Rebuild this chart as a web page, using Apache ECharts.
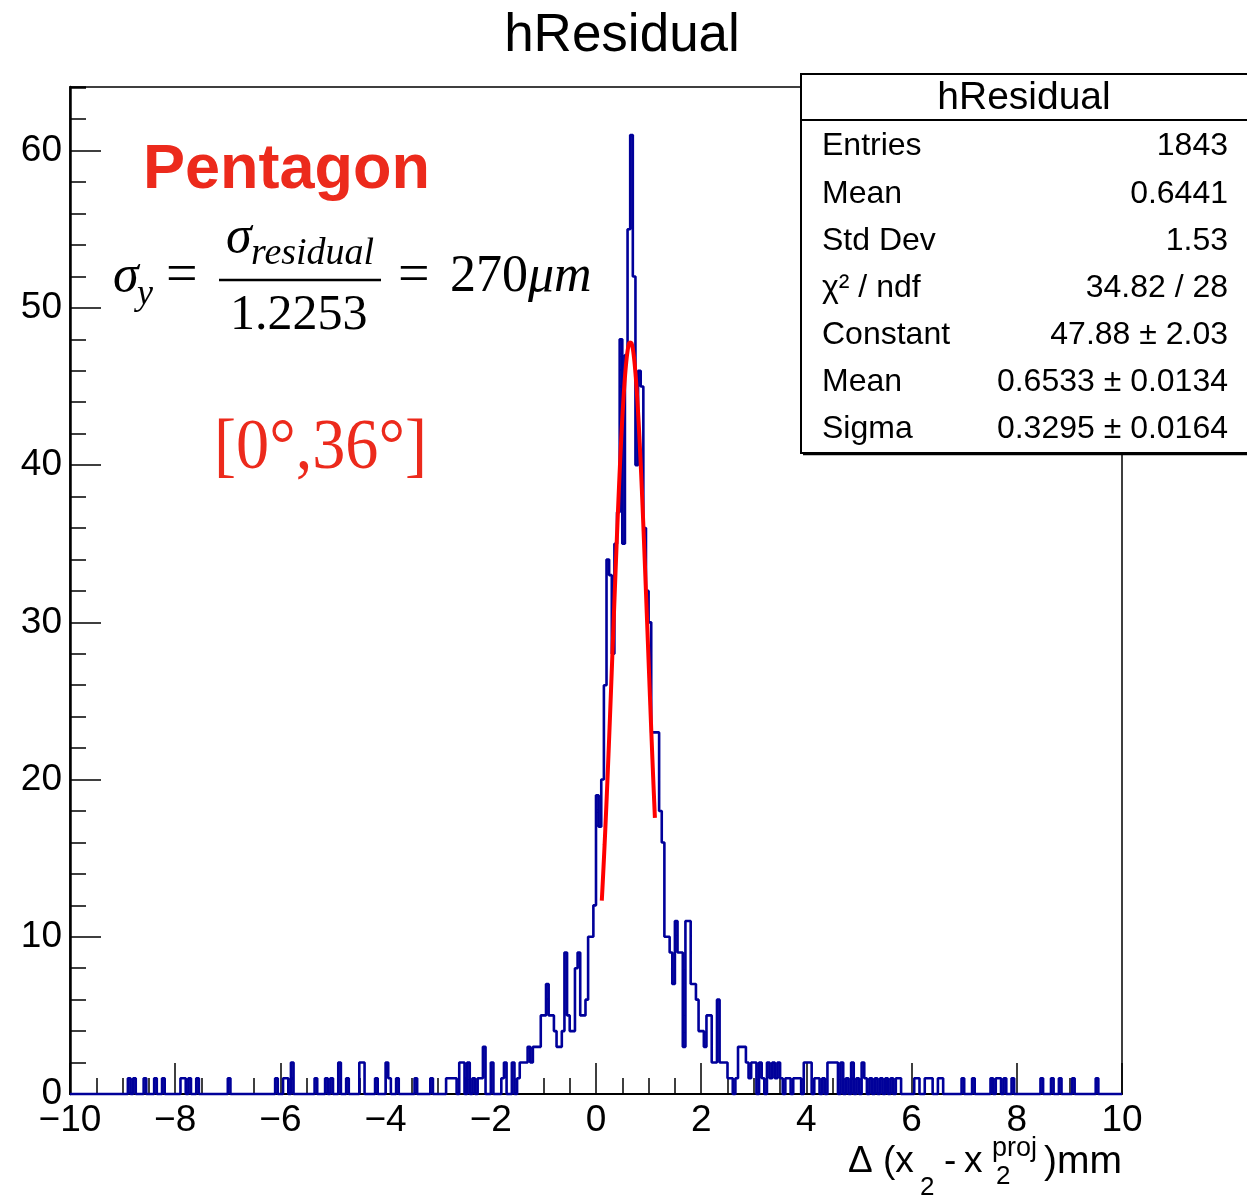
<!DOCTYPE html>
<html>
<head>
<meta charset="utf-8">
<script src="https://cdn.jsdelivr.net/npm/echarts@6/dist/echarts.min.js"></script>
<style>
  html, body { margin: 0; padding: 0; background: #ffffff; }
  #chart { width: 1247px; height: 1199px; }
</style>
</head>
<body>
<div id="chart"></div>
<script>
// Histogram binning: 400 bins of width 0.05 on [-10, 10]
const xMin = -10;
const xMax = 10;
const binWidth = 0.05;
const yMax = 64.05;

// Axis tick labels
const xTickValues = [-10, -8, -6, -4, -2, 0, 2, 4, 6, 8, 10];
const yTickValues = [0, 10, 20, 30, 40, 50, 60];

// Bin contents, one row of 20 bins per unit of x (row starts at the given x)
const countsFromMinus10 = [0,0,0,0,0,0,0,0,0,0,0,0,0,0,0,0,0,0,0,0];
const countsFromMinus9  = [0,0,1,0,1,0,0,0,1,0,0,0,1,0,0,1,0,0,0,0];
const countsFromMinus8  = [0,0,1,1,0,1,0,0,1,0,0,0,0,0,0,0,0,0,0,0];
const countsFromMinus7  = [1,0,0,0,0,0,0,0,0,0,0,0,0,0,0,0,0,0,1,0];
const countsFromMinus6  = [0,1,1,0,2,0,0,0,0,0,0,0,0,1,0,0,0,1,0,1];
const countsFromMinus5  = [0,0,2,0,0,1,0,0,0,0,2,2,0,0,0,0,1,0,0,0];
const countsFromMinus4  = [2,1,0,0,1,0,0,0,0,0,0,1,0,0,0,0,0,1,0,0];
const countsFromMinus3  = [0,0,0,1,1,1,1,0,2,2,0,2,0,1,0,1,1,3,0,0];
const countsFromMinus2  = [2,0,0,0,1,2,0,0,2,0,1,2,2,2,3,2,3,3,3,5];
const countsFromMinus1  = [5,7,5,5,4,3,3,4,9,5,4,4,8,9,5,5,6,10,10,12];
const countsFrom0       = [19,17,20,26,34,33,28,35,37,48,35,47,55,61,52,40,46,45,36,32];
const countsFrom1       = [30,23,23,23,18,16,10,10,9,7,11,9,9,3,11,11,7,7,6,4];
const countsFrom2       = [4,3,5,5,2,2,6,2,2,2,1,1,0,1,3,3,3,2,1,2];
const countsFrom3       = [2,0,2,1,0,2,1,2,1,2,1,0,1,1,0,1,1,1,0,2];
const countsFrom4       = [2,2,0,1,1,0,1,0,2,2,2,2,0,2,0,1,0,2,0,1];
const countsFrom5       = [0,2,1,0,1,0,1,0,1,0,1,0,1,0,1,1,0,0,0,0];
const countsFrom6       = [0,1,1,0,0,1,1,1,0,0,1,1,0,0,0,0,0,0,0,1];
const countsFrom7       = [0,0,0,1,0,0,0,0,0,0,1,0,1,1,0,1,0,0,1,0];
const countsFrom8       = [0,0,0,0,0,0,0,0,0,1,0,0,0,1,0,0,1,0,0,0];
const countsFrom9       = [0,1,0,0,0,0,0,0,0,0,1,0,0,0,0,0,0,0,0,0];

// Gaussian fit parameters (as printed in the statistics box)
const fitConstant = 47.88;
const fitMean = 0.6533;
const fitSigma = 0.3295;
const fitRange = [0.11, 1.12];

// Statistics box rows
const statsLabels = ['Entries', 'Mean', 'Std Dev', 'χ² / ndf', 'Constant', 'Mean', 'Sigma'];
const statsValues = ['1843', '0.6441', '1.53', '34.82 / 28', '47.88 ± 2.03', '0.6533 ± 0.0134', '0.3295 ± 0.0164'];

const counts = [].concat(
  countsFromMinus10, countsFromMinus9, countsFromMinus8, countsFromMinus7, countsFromMinus6,
  countsFromMinus5, countsFromMinus4, countsFromMinus3, countsFromMinus2, countsFromMinus1,
  countsFrom0, countsFrom1, countsFrom2, countsFrom3, countsFrom4,
  countsFrom5, countsFrom6, countsFrom7, countsFrom8, countsFrom9
);

// Step outline: each point sits on a bin's low edge, closed at the upper edge
const histData = counts.map((c, i) => [+(xMin + i * binWidth).toFixed(2), c]);
histData.push([xMax, counts[counts.length - 1]]);

// Fitted Gaussian evaluated over the fit range
const fitData = [];
const nFit = 150;
for (let k = 0; k <= nFit; k++) {
  const x = fitRange[0] + (fitRange[1] - fitRange[0]) * k / nFit;
  const z = (x - fitMean) / fitSigma;
  fitData.push([x, fitConstant * Math.exp(-0.5 * z * z)]);
}

const sans = '"Liberation Sans", Arial, Helvetica, sans-serif';
const serif = '"Liberation Serif", "Times New Roman", serif';
const fitRed = '#ff0000';
const textRed = '#ec2a1c';
const histBlue = '#00009a';

function txt(text, x, y, font, opts) {
  opts = opts || {};
  return {
    type: 'text', x: x, y: y, z: 120,
    scaleX: opts.scaleX || 1,
    style: {
      text: text, font: font, fill: opts.fill || '#000',
      align: opts.align || 'left', verticalAlign: 'middle'
    }
  };
}

const graphics = [];
// Title
graphics.push(txt('hResidual', 622, 36, '53px ' + sans, { align: 'center' }));

// Statistics box
graphics.push({
  type: 'rect', z: 110,
  shape: { x: 801, y: 74, width: 460, height: 379 },
  style: { fill: '#ffffff', stroke: '#000', lineWidth: 2 }
});
graphics.push({
  type: 'line', z: 111,
  shape: { x1: 801, y1: 120, x2: 1247, y2: 120 },
  style: { stroke: '#000', lineWidth: 2 }
});
graphics.push({
  type: 'line', z: 111,
  shape: { x1: 803, y1: 454.5, x2: 1247, y2: 454.5 },
  style: { stroke: '#000', lineWidth: 1.5 }
});
graphics.push(txt('hResidual', 1024, 98, '39px ' + sans, { align: 'center' }));
const rowY = [146, 194, 241, 288, 335, 382, 429];
statsLabels.forEach((s, i) => graphics.push(txt(s, 822, rowY[i], '32px ' + sans)));
statsValues.forEach((s, i) => graphics.push(txt(s, 1228, rowY[i], '32px ' + sans, { align: 'right' })));

// Annotations
graphics.push(txt('Pentagon', 143, 171, 'bold 63px ' + sans, { fill: textRed }));
graphics.push(txt('σ', 113, 277, 'italic 52px ' + serif));
graphics.push(txt('y', 137, 295, 'italic 36px ' + serif));
graphics.push(txt('=', 166, 277, '56px ' + serif));
graphics.push(txt('σ', 226, 238, 'italic 52px ' + serif));
graphics.push(txt('residual', 251, 254, 'italic 38px ' + serif));
graphics.push({
  type: 'line', z: 120,
  shape: { x1: 219, y1: 280, x2: 381, y2: 280 },
  style: { stroke: '#000', lineWidth: 2.5 }
});
graphics.push(txt('1.2253', 230, 316, '50px ' + serif));
graphics.push(txt('=', 398, 277, '56px ' + serif));
graphics.push(txt('270', 450, 277, '52px ' + serif));
graphics.push(txt('μm', 528, 277, 'italic 52px ' + serif));
graphics.push(txt('[0°,36°]', 214, 449, '72px ' + serif, { fill: textRed, scaleX: 0.92 }));

// X axis title: Δ (x_2 - x_2^proj)mm
graphics.push(txt('Δ (x', 848, 1162, '37px ' + sans));
graphics.push(txt('2', 920, 1188, '26px ' + sans));
graphics.push(txt('-', 944, 1162, '37px ' + sans));
graphics.push(txt('x', 964, 1162, '37px ' + sans));
graphics.push(txt('proj', 992, 1149, '27px ' + sans));
graphics.push(txt('2', 996, 1177, '26px ' + sans));
graphics.push(txt(')mm', 1122, 1162, '39px ' + sans, { align: 'right' }));

const chart = echarts.init(document.getElementById('chart'), null, { renderer: 'canvas' });
chart.setOption({
  animation: false,
  backgroundColor: '#ffffff',
  grid: {
    left: 70, right: 125, top: 87, bottom: 105,
    show: true, borderColor: '#000', borderWidth: 1.5, backgroundColor: 'transparent'
  },
  xAxis: {
    type: 'value', min: xMin, max: xMax, interval: 2,
    axisLine: { show: true, onZero: false, lineStyle: { color: '#000', width: 2 } },
    axisTick: { show: true, inside: true, length: 31, lineStyle: { color: '#000', width: 1.5 } },
    minorTick: { show: true, splitNumber: 4, length: 16, lineStyle: { color: '#000', width: 1.5 } },
    splitLine: { show: false },
    axisLabel: {
      margin: 8, color: '#000', fontFamily: sans, fontSize: 37,
      customValues: xTickValues,
      formatter: v => (v < 0 ? '\u2212' + Math.abs(v) : String(v))
    }
  },
  yAxis: [
    {
      type: 'value', min: 0, max: yMax, interval: 10, position: 'left',
      axisLine: { show: true, onZero: false, lineStyle: { color: '#000', width: 2.5 } },
      axisTick: { show: true, inside: true, length: 31, customValues: yTickValues, lineStyle: { color: '#000', width: 1.5 } },
      splitLine: { show: false },
      axisLabel: {
        margin: 8, color: '#000', fontFamily: sans, fontSize: 37,
        customValues: yTickValues
      }
    },
    {
      type: 'value', min: 0, max: yMax, interval: 2, position: 'left', offset: 0,
      axisLine: { show: false, onZero: false },
      axisTick: { show: true, inside: true, length: 16, lineStyle: { color: '#000', width: 1.5 } },
      splitLine: { show: false },
      axisLabel: { show: false }
    }
  ],
  series: [
    {
      name: 'hResidual', type: 'line', step: 'end', data: histData,
      xAxisIndex: 0, yAxisIndex: 0,
      showSymbol: false, symbol: 'none', clip: false,
      lineStyle: { color: histBlue, width: 2.6 }, z: 5
    },
    {
      name: 'gaus', type: 'line', data: fitData,
      xAxisIndex: 0, yAxisIndex: 0,
      showSymbol: false, symbol: 'none', smooth: false,
      lineStyle: { color: fitRed, width: 4 }, z: 6
    }
  ],
  graphic: { elements: graphics }
});
</script>
</body>
</html>
